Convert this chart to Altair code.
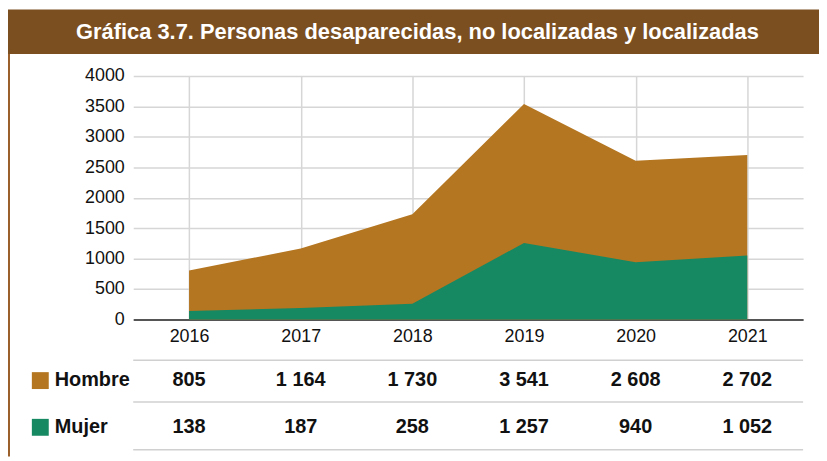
import altair as alt
import pandas as pd

years = ["2016", "2017", "2018", "2019", "2020", "2021"]
hombre = [805, 1164, 1730, 3541, 2608, 2702]
mujer = [138, 187, 258, 1257, 940, 1052]
series_names = ["Hombre", "Mujer"]
title_text = "Gráfica 3.7. Personas desaparecidas, no localizadas y localizadas"

BROWN = "#B47621"
GREEN = "#168862"
BAR = "#7B4F20"
NARROW = "Liberation Sans Narrow, Arial Narrow, Liberation Sans, sans-serif"
REG = "Liberation Sans, Arial, sans-serif"

def fmt(v):
    return f"{v:,}".replace(",", " ")

df = pd.DataFrame({
    "year": years,
    "Hombre": hombre,
    "Mujer": mujer,
    "h_lbl": [fmt(v) for v in hombre],
    "m_lbl": [fmt(v) for v in mujer],
})
one = pd.DataFrame({"k": [0]})

W, H = 674, 245

x = alt.X("year:O", scale=alt.Scale(type="point", padding=0.5),
          axis=alt.Axis(title=None, labelAngle=0, labelFont=REG, labelFontSize=18,
                        labelColor="#111", labelPadding=8, ticks=False,
                        domainColor="#555", domainWidth=2,
                        grid=True, gridColor="#d6d6d6", gridWidth=1.5))
yscale = alt.Scale(domain=[0, 4000])
yaxis = alt.Axis(title=None, values=list(range(0, 4001, 500)), format="d", labelFont=REG,
                 labelFontSize=18, labelColor="#111", labelPadding=9, ticks=False,
                 domain=False, gridColor="#d6d6d6", gridWidth=1.5)

base = alt.Chart(df)
area_h = base.mark_area(color=BROWN, opacity=1).encode(
    x=x, y=alt.Y("Hombre:Q", scale=yscale, axis=yaxis))
area_m = base.mark_area(color=GREEN, opacity=1).encode(
    x=x, y=alt.Y("Mujer:Q", scale=yscale, axis=yaxis))

rules = [
    alt.Chart(one).mark_rule(color="#d0d0d0", strokeWidth=1.5).encode(
        x=alt.value(0), x2=alt.value(W), y=alt.value(yy))
    for yy in (286, 328, 376)
]

TS = 20
txt_h = base.mark_text(font=NARROW, fontWeight="bold", fontSize=TS, color="#111").encode(
    x=x, y=alt.value(306), text="h_lbl:N")
txt_m = base.mark_text(font=NARROW, fontWeight="bold", fontSize=TS, color="#111").encode(
    x=x, y=alt.value(353), text="m_lbl:N")

sw_h = alt.Chart(one).mark_rect(color=BROWN).encode(
    x=alt.value(-102), x2=alt.value(-85), y=alt.value(298), y2=alt.value(315))
sw_m = alt.Chart(one).mark_rect(color=GREEN).encode(
    x=alt.value(-102), x2=alt.value(-85), y=alt.value(345), y2=alt.value(362))
lbl_h = alt.Chart(one).mark_text(font=NARROW, fontWeight="bold", fontSize=TS,
                                 color="#111", align="left").encode(
    x=alt.value(-79), y=alt.value(306), text=alt.value(series_names[0]))
lbl_m = alt.Chart(one).mark_text(font=NARROW, fontWeight="bold", fontSize=TS,
                                 color="#111", align="left").encode(
    x=alt.value(-79), y=alt.value(353), text=alt.value(series_names[1]))

bar = alt.Chart(one).mark_rect(color=BAR).encode(
    x=alt.value(-126), x2=alt.value(690), y=alt.value(-67), y2=alt.value(-22))
border = alt.Chart(one).mark_rule(color="#9a5f2a", strokeWidth=2).encode(
    x=alt.value(-125), y=alt.value(-22), y2=alt.value(383))
title = alt.Chart(one).mark_text(font=NARROW, fontWeight="bold", fontSize=22,
                                 color="white", align="center", baseline="middle").encode(
    x=alt.value(286), y=alt.value(-44), text=alt.value(title_text))

chart = alt.layer(
    area_h, area_m, *rules, txt_h, txt_m, sw_h, sw_m, lbl_h, lbl_m, bar, border, title
).properties(width=W, height=H, padding=0, background="white").configure_view(stroke=None)

chart.save("out.html", embed_options={"renderer": "svg", "actions": False})
